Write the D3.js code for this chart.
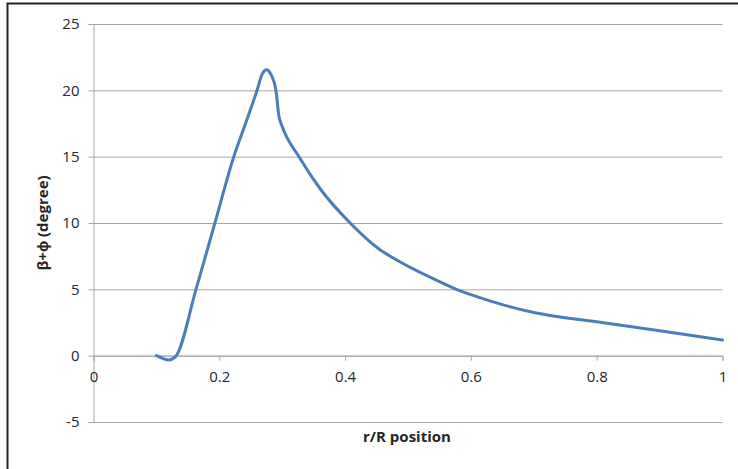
<!DOCTYPE html>
<html>
<head>
<meta charset="utf-8">
<script src="https://cdn.jsdelivr.net/npm/d3@7"></script>
<style>
  body { margin: 0; background: #fff; }
  text { font-family: "Open Sans", sans-serif; fill: #262626; }
</style>
</head>
<body>
<svg id="chart" width="738" height="469"></svg>
<script>
// r/R position
const rPos = [0.100, 0.110, 0.119, 0.130, 0.163, 0.193, 0.223, 0.241,
  0.260, 0.268, 0.275, 0.282, 0.290, 0.295, 0.299, 0.328, 0.360,
  0.408, 0.455, 0.487, 0.540, 0.577, 0.600, 0.646, 0.700, 0.800, 0.900, 1.000];
// beta + phi (degree)
const angle = [0.0, -0.2, -0.32, -0.1, 5.0, 10.0, 15.0, 17.4,
  20.0, 21.2, 21.55, 21.2, 20.0, 18.0, 17.4, 14.9, 12.6,
  10.0, 8.0, 7.08, 5.8, 5.0, 4.6, 3.9, 3.25, 2.55, 1.88, 1.18];
const xTicks = [0, 0.2, 0.4, 0.6, 0.8, 1];
const yTicks = [-5, 0, 5, 10, 15, 20, 25];

const svg = d3.select('#chart');
const points = rPos.map((r, i) => ({r: r, v: angle[i]}));

const x = d3.scaleLinear().domain([0, 1]).range([93.5, 722.5]);
const y = d3.scaleLinear().domain([-5, 25]).range([422, 24]);

// outer frame
svg.append('rect')
  .attr('x', 7.5).attr('y', 3.5)
  .attr('width', 740).attr('height', 480)
  .attr('fill', 'none')
  .attr('stroke', '#222')
  .attr('stroke-width', 2);

// horizontal gridlines + left axis
const yAxis = svg.append('g')
  .attr('transform', `translate(${x(0)},0)`)
  .call(d3.axisLeft(y).tickValues(yTicks).tickSize(5).tickPadding(9)
    .tickFormat((d) => String(d)))
  .attr('font-size', 15)
  .attr('font-family', null);
yAxis.select('.domain').attr('stroke', '#a6a6a6');
yAxis.selectAll('.tick line').attr('stroke', '#a6a6a6');
yAxis.selectAll('.tick text').attr('fill', '#262626');
yAxis.selectAll('.tick').append('line')
  .attr('x1', 0).attr('x2', x(1) - x(0))
  .attr('stroke', '#a6a6a6');

// bottom axis at y = 0
const xAxis = svg.append('g')
  .attr('transform', `translate(0,${y(0)})`)
  .call(d3.axisBottom(x).tickValues(xTicks).tickSize(5).tickPadding(11)
    .tickFormat((d) => String(d)))
  .attr('font-size', 15)
  .attr('font-family', null);
xAxis.select('.domain').attr('stroke', '#a6a6a6');
xAxis.selectAll('.tick line').attr('stroke', '#a6a6a6');
xAxis.selectAll('.tick text').attr('fill', '#262626');

// data line
const line = d3.line()
  .x((d) => x(d.r))
  .y((d) => y(d.v))
  .curve(d3.curveMonotoneX);

svg.append('path')
  .datum(points)
  .attr('d', line)
  .attr('fill', 'none')
  .attr('stroke', '#4a7ebb')
  .attr('stroke-width', 3)
  .attr('stroke-linejoin', 'round')
  .attr('stroke-linecap', 'round');

// axis titles
svg.append('text')
  .attr('x', 407).attr('y', 442)
  .attr('text-anchor', 'middle')
  .style('font-size', '15px')
  .style('font-weight', 'bold')
  .text('r/R position');

svg.append('text')
  .attr('transform', 'translate(48,223) rotate(-90)')
  .attr('text-anchor', 'middle')
  .style('font-size', '15px')
  .style('font-weight', 'bold')
  .text('β+ϕ (degree)');
</script>
</body>
</html>
